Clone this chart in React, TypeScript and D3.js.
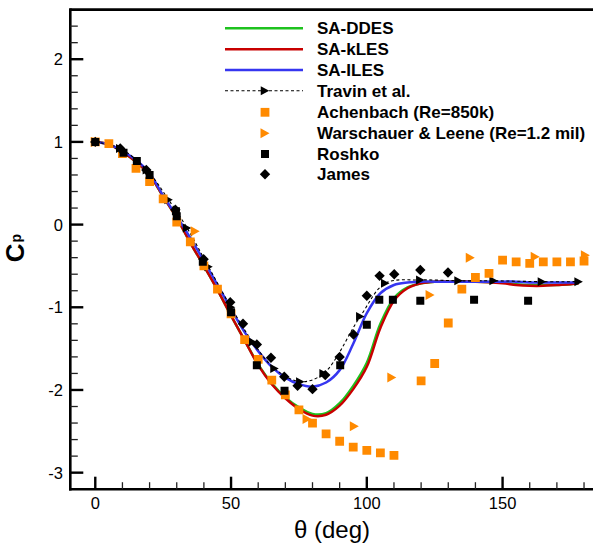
import React from "react";
import * as d3 from "d3";

const W = 593;
const H = 547;

// ---- data ----
const thetaSA = [0, 5, 10, 15, 20, 25, 30, 35, 40, 45, 50, 55, 60, 65, 70, 75, 80, 85, 90, 95, 100, 105, 110, 115, 120, 125, 130, 140, 150, 155, 160, 165, 170, 175, 178];
const cpDDES = [1.0, 0.97, 0.88, 0.76, 0.6, 0.34, 0.08, -0.22, -0.5, -0.79, -1.1, -1.4, -1.69, -1.92, -2.09, -2.21, -2.29, -2.28, -2.16, -1.95, -1.67, -1.2, -0.89, -0.76, -0.71, -0.69, -0.69, -0.69, -0.7, -0.72, -0.73, -0.73, -0.73, -0.72, -0.71];
const cpKLES = [1.0, 0.97, 0.88, 0.76, 0.6, 0.34, 0.08, -0.22, -0.5, -0.79, -1.1, -1.4, -1.7, -1.93, -2.1, -2.23, -2.31, -2.3, -2.19, -1.99, -1.72, -1.25, -0.92, -0.77, -0.71, -0.69, -0.69, -0.69, -0.71, -0.73, -0.74, -0.74, -0.73, -0.72, -0.71];
const cpILES = [1.0, 0.97, 0.89, 0.78, 0.62, 0.35, 0.1, -0.16, -0.44, -0.73, -1.02, -1.3, -1.53, -1.72, -1.85, -1.93, -1.96, -1.91, -1.76, -1.44, -1.07, -0.83, -0.73, -0.7, -0.69, -0.69, -0.69, -0.69, -0.69, -0.69, -0.7, -0.7, -0.7, -0.7, -0.7];

const thetaTravin = [0, 9.2, 19, 27, 33.8, 41.7, 50, 58, 66, 75.5, 84.1, 97.6, 106.8, 119.7, 133.8, 146.7, 164.5, 178];
const cpTravin = [1.0, 0.92, 0.66, 0.3, -0.04, -0.51, -1.0, -1.42, -1.74, -1.9, -1.8, -1.11, -0.71, -0.67, -0.68, -0.68, -0.69, -0.69];

const thetaAchenbach = [0, 5, 10, 15, 20, 25, 30, 35, 40, 45, 50, 55, 60, 65, 70, 75, 80, 85, 90, 95, 100, 105, 110, 120, 125, 130, 135, 140, 145, 150, 155, 160, 165, 170, 175, 180];
const cpAchenbach = [1.0, 0.98, 0.86, 0.68, 0.52, 0.31, 0.03, -0.21, -0.5, -0.78, -1.08, -1.39, -1.63, -1.88, -2.06, -2.24, -2.4, -2.53, -2.62, -2.69, -2.73, -2.76, -2.79, -1.89, -1.68, -1.19, -0.78, -0.64, -0.59, -0.43, -0.45, -0.47, -0.45, -0.45, -0.45, -0.44];

const thetaWarsch = [0, 36.8, 78, 95.4, 109.2, 123.3, 138.1, 162, 180.5];
const cpWarsch = [1.0, -0.08, -2.35, -2.44, -1.85, -0.85, -0.4, -0.39, -0.37];

const thetaRoshko = [0, 10.4, 15.3, 20, 29.7, 30, 39.6, 50, 59.5, 69.7, 90.2, 100, 104.6, 109.6, 119.7, 139.5, 159.4];
const cpRoshko = [1.0, 0.87, 0.77, 0.6, 0.16, 0.1, -0.45, -1.06, -1.7, -2.01, -1.7, -1.21, -0.91, -0.91, -0.92, -0.91, -0.92];

const thetaJames = [0, 9.2, 18.8, 29.5, 39.9, 49.7, 54.4, 59.5, 64.7, 69.6, 74.5, 80, 84.7, 90, 95.1, 100, 104.7, 110.1, 119.7, 129.9];
const cpJames = [1.0, 0.92, 0.66, 0.18, -0.42, -0.94, -1.2, -1.45, -1.61, -1.84, -1.95, -1.99, -1.82, -1.6, -1.33, -0.86, -0.62, -0.6, -0.55, -0.58];

const xMajor = [0, 50, 100, 150];
const yMajor = [-3, -2, -1, 0, 1, 2];

const legendLabels = ["SA-DDES", "SA-kLES", "SA-ILES", "Travin et al.", "Achenbach (Re=850k)", "Warschauer & Leene (Re=1.2 mil)", "Roshko", "James"];

// ---- style ----
const GREEN = "#1ec21e";
const RED = "#c80000";
const BLUE = "#3636f0";
const ORANGE = "#ff8a00";
const FONT = "'Liberation Sans', Arial, Helvetica, sans-serif";

const left = 70.3;
const top = 9.6;
const bottom = 489.2;
const x = d3.scaleLinear().domain([-9.2, 185]).range([left, left + 194.2 * 2.7153]);
const y = d3.scaleLinear().domain([-3.2, 2.6]).range([bottom, top]);

function sq(cx: number, cy: number, s: number) {
  const h = s / 2;
  return `M${cx - h},${cy - h}h${s}v${s}h${-s}Z`;
}
function diamond(cx: number, cy: number, r: number) {
  return `M${cx},${cy - r}L${cx + r},${cy}L${cx},${cy + r}L${cx - r},${cy}Z`;
}
function tri(cx: number, cy: number, w: number, h: number) {
  return `M${cx - w / 2},${cy - h / 2}L${cx + w / 2},${cy}L${cx - w / 2},${cy + h / 2}Z`;
}

export default function App() {
  const mk = (ys: number[]) =>
    d3
      .line<number>()
      .x((_, i) => x(thetaSA[i]))
      .y((d) => y(d))
      .curve(d3.curveCatmullRom.alpha(0.5))(ys) || "";
  const travinPath =
    d3
      .line<number>()
      .x((_, i) => x(thetaTravin[i]))
      .y((d) => y(d))
      .curve(d3.curveCatmullRom.alpha(0.5))(cpTravin) || "";

  const xMinor = d3.range(0, 181, 10).filter((v) => !xMajor.includes(v));
  const yMinor = d3.range(-32, 27, 2).map((v) => v / 10).filter((v) => !yMajor.includes(v) && v > -3.2 && v < 2.6);

  const legX0 = 225;
  const legX1 = 303;
  const legTextX = 317;
  const legRows = [28.3, 49.3, 70, 90.7, 112.3, 133.3, 154, 174.3];
  const legSym = 265;

  return (
    <svg width={W} height={H} style={{ position: "absolute", left: 0, top: 0, background: "#fff" }} fontFamily={FONT}>
      <defs>
        <clipPath id="plot">
          <rect x={left} y={top} width={W - left + 10} height={bottom - top} />
        </clipPath>
      </defs>
      <rect x={0} y={0} width={W} height={H} fill="#fff" />

      <g clipPath="url(#plot)">
        <path d={mk(cpDDES)} fill="none" stroke={GREEN} strokeWidth={2.5} />
        <path d={mk(cpKLES)} fill="none" stroke={RED} strokeWidth={2.5} />
        <path d={mk(cpILES)} fill="none" stroke={BLUE} strokeWidth={2.5} />
        <path d={travinPath} fill="none" stroke="#000" strokeWidth={1.1} strokeDasharray="3,2.5" />
        {thetaTravin.map((t, i) => (
          <path key={"tr" + i} d={tri(x(t), y(cpTravin[i]), 8.5, 9)} fill="#000" />
        ))}
        {thetaAchenbach.map((t, i) => (
          <path key={"ac" + i} d={sq(x(t), y(cpAchenbach[i]), 8.8)} fill={ORANGE} />
        ))}
        {thetaWarsch.map((t, i) => (
          <path key={"wl" + i} d={tri(x(t), y(cpWarsch[i]), 9, 10)} fill={ORANGE} />
        ))}
        {thetaRoshko.map((t, i) => (
          <path key={"ro" + i} d={sq(x(t), y(cpRoshko[i]), 8)} fill="#000" />
        ))}
        {thetaJames.map((t, i) => (
          <path key={"ja" + i} d={diamond(x(t), y(cpJames[i]), 5.2)} fill="#000" />
        ))}
      </g>

      {/* frame */}
      <line x1={left} y1={top} x2={W + 5} y2={top} stroke="#000" strokeWidth={2.6} />
      <line x1={left} y1={top - 1.3} x2={left} y2={bottom + 1.3} stroke="#000" strokeWidth={2.6} />
      <line x1={left - 1.3} y1={bottom} x2={W + 5} y2={bottom} stroke="#000" strokeWidth={2.6} />

      {/* y ticks */}
      {yMajor.map((v) => (
        <g key={"ym" + v}>
          <line x1={left} x2={left + 13} y1={y(v)} y2={y(v)} stroke="#000" strokeWidth={2.4} />
          <text x={63} y={y(v) + 6} fontSize={16.5} textAnchor="end" fill="#000">
            {v}
          </text>
        </g>
      ))}
      {yMinor.map((v) => (
        <line key={"yn" + v} x1={left} x2={left + 7.5} y1={y(v)} y2={y(v)} stroke="#222" strokeWidth={1.3} />
      ))}

      {/* x ticks */}
      {xMajor.map((v) => (
        <g key={"xm" + v}>
          <line x1={x(v)} x2={x(v)} y1={bottom} y2={bottom - 12.5} stroke="#000" strokeWidth={2.4} />
          <text x={x(v)} y={508.5} fontSize={16.5} textAnchor="middle" fill="#000">
            {v}
          </text>
        </g>
      ))}
      {xMinor.map((v) => (
        <line key={"xn" + v} x1={x(v)} x2={x(v)} y1={bottom} y2={bottom - 7} stroke="#222" strokeWidth={1.3} />
      ))}

      {/* axis titles */}
      <text x={332} y={538} fontSize={24} textAnchor="middle" fill="#000">
        θ (deg)
      </text>
      <text transform="translate(24,248) rotate(-90)" fontSize={26} fontWeight="bold" textAnchor="middle" fill="#000">
        C
        <tspan fontSize={14} dy={-3} dx={1}>
          p
        </tspan>
      </text>

      {/* legend */}
      <g>
        <line x1={legX0} x2={legX1} y1={legRows[0]} y2={legRows[0]} stroke={GREEN} strokeWidth={2.5} />
        <line x1={legX0} x2={legX1} y1={legRows[1]} y2={legRows[1]} stroke={RED} strokeWidth={2.5} />
        <line x1={legX0} x2={legX1} y1={legRows[2]} y2={legRows[2]} stroke={BLUE} strokeWidth={2.5} />
        <line x1={legX0} x2={legX1} y1={legRows[3]} y2={legRows[3]} stroke="#000" strokeWidth={1.1} strokeDasharray="3,2.5" />
        <path d={tri(legSym, legRows[3], 8.5, 9)} fill="#000" />
        <path d={sq(legSym, legRows[4], 8.8)} fill={ORANGE} />
        <path d={tri(legSym, legRows[5], 9, 10)} fill={ORANGE} />
        <path d={sq(legSym, legRows[6], 8)} fill="#000" />
        <path d={diamond(legSym, legRows[7], 5.2)} fill="#000" />
        {legendLabels.map((l, i) => (
          <text key={l} x={legTextX} y={legRows[i] + 6} fontSize={17} fontWeight="bold" fill="#000">
            {l}
          </text>
        ))}
      </g>
    </svg>
  );
}
